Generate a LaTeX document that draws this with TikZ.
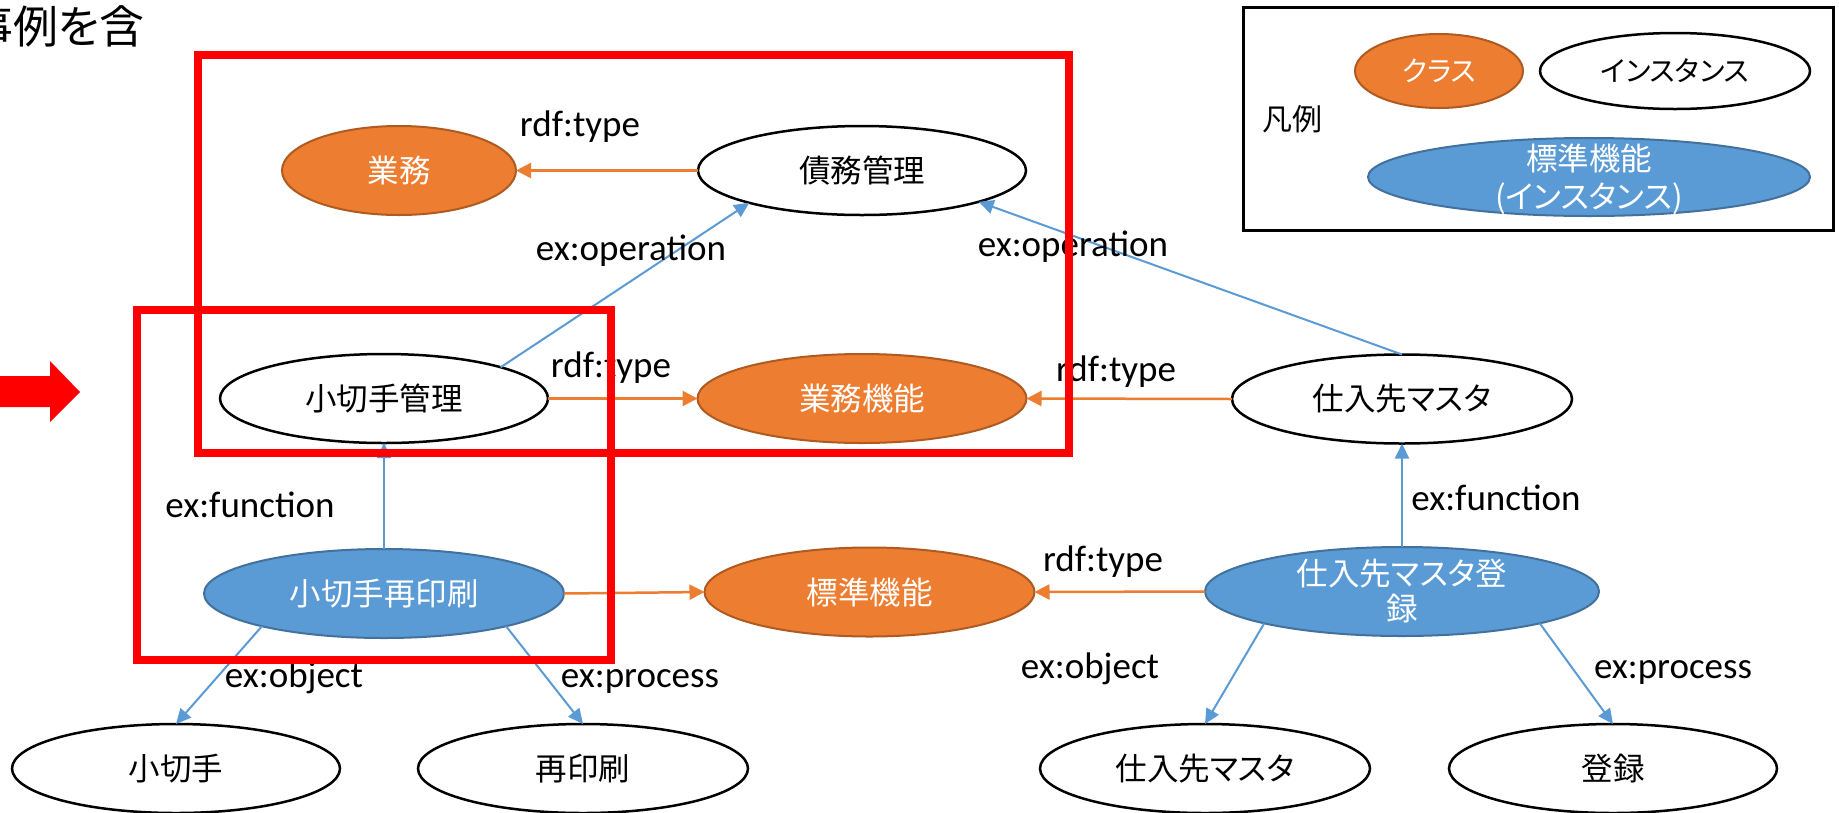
\documentclass[tikz,border=0pt]{standalone}
\usepackage{fontspec}
\setmainfont{Carlito}
\newfontfamily\jp{Noto Sans CJK JP}[RawFeature={+palt}]
\usetikzlibrary{shapes.geometric,arrows.meta}
\definecolor{orF}{HTML}{ED7D31}
\definecolor{orD}{HTML}{AE5A21}
\definecolor{blF}{HTML}{5B9BD5}
\definecolor{blD}{HTML}{41719C}
\tikzset{
 basell/.style={ellipse, inner sep=0pt, outer sep=0pt, align=center, font=\jp\fontsize{31.5}{35}\selectfont, minimum height=89pt},
 cls/.style={basell, fill=orF, draw=orD, line width=2pt, text=white},
 inst/.style={basell, fill=white, draw=black, line width=2.5pt},
 func/.style={basell, fill=blF, draw=blD, line width=2pt, text=white},
 lbl/.style={font=\fontsize{37}{42}\selectfont, anchor=base, inner sep=0pt},
 typ/.style={draw=orF, line width=2.5pt, -{Triangle[length=15pt,width=15pt]}},
 rel/.style={draw=blF, line width=2pt, -{Triangle[length=15pt,width=14pt]}},
 redbox/.style={draw=red, line width=8pt},
}
\begin{document}
\begin{tikzpicture}[x=1pt,y=-1pt]
\useasboundingbox (0,0) rectangle (1839,812);
\clip (0,0) rectangle (1839,812);
\fill[white] (0,0) rectangle (1839,812);

% title fragment
\node[font=\jp\fontsize{45}{50}\selectfont, anchor=east, inner sep=0pt] (title) at (145,26) {事例を含};

% red arrow
\fill[red] (-10,376) -- (50,376) -- (50,361) -- (80,392) -- (50,422) -- (50,407) -- (-10,407) -- cycle;

% main nodes
\node[cls, minimum width=234pt] (gyomu) at (399,170.5) {業務};
\node[inst, minimum width=328pt] (saimu) at (862,170.5) {債務管理};
\node[inst, minimum width=328pt] (kkanri) at (384,398.5) {小切手管理};
\node[cls, minimum width=329pt] (gkino) at (862,398.5) {業務機能};
\node[inst, minimum width=340pt] (shiire) at (1402,399) {仕入先マスタ};
\node[func, minimum width=360pt] (kinsatsu) at (384,593.5) {小切手再印刷};
\node[cls, minimum width=330pt] (hyojun) at (869.5,592) {標準機能};
\node[func, minimum width=394pt] (sreg) at (1402,591.5) {};
\node[font=\jp\fontsize{31.5}{35}\selectfont, text=white, align=center, inner sep=0pt] (sregtxt) at (sreg.center) {仕入先マスタ登\\録};
\node[inst, minimum width=328pt] (kogitte) at (176,768.5) {小切手};
\node[inst, minimum width=330pt] (reprint) at (583,768.5) {再印刷};
\node[inst, minimum width=330pt] (smaster) at (1205,768.5) {仕入先マスタ};
\node[inst, minimum width=328pt] (toroku) at (1613,768.5) {登録};

% legend
\node[draw=black, line width=3pt, minimum width=590pt, minimum height=223pt, inner sep=0pt, anchor=north west] (legend) at (1242,6) {};
\node[font=\jp\fontsize{30}{36}\selectfont, inner sep=0pt] (hanrei) at (1292,119) {凡例};
\node[cls, minimum width=168pt, minimum height=74pt, font=\jp\fontsize{28}{34}\selectfont] (lcls) at (1439,71) {クラス};
\node[inst, minimum width=270pt, minimum height=76pt, font=\jp\fontsize{28}{34}\selectfont] (linst) at (1675,71) {インスタンス};
\node[func, minimum width=442pt, minimum height=78pt] (lfunc) at (1589,177) {};
\node[font=\jp\fontsize{31.5}{38}\selectfont, text=white, align=center, inner sep=0pt] (lfunctxt) at (1589,179) {標準機能\\(インスタンス)};

% connectors
\draw[typ] (saimu.west) -- (gyomu.east);
\draw[rel] (kkanri.15) -- (saimu.196);
\draw[rel] (shiire.north) -- (saimu.345);
\draw[typ] (kkanri.east) -- (gkino.west);
\draw[typ] (shiire.west) -- (gkino.east);
\draw[rel] (kinsatsu.north) -- (kkanri.south);
\draw[typ] (kinsatsu.east) -- (hyojun.west);
\draw[typ] (sreg.west) -- (hyojun.east);
\draw[rel] (sreg.north) -- (shiire.south);
\draw[rel] (kinsatsu.195) -- (kogitte.north);
\draw[rel] (kinsatsu.345) -- (reprint.north);
\draw[rel] (sreg.193) -- (smaster.north);
\draw[rel] (sreg.347) -- (toroku.north);

% labels
\node[lbl] (l1) at (580,136) {rdf:type};
\node[lbl] (l2) at (631,260) {ex:operation};
\node[lbl] (l3) at (1073,256) {ex:operation};
\node[lbl] (l4) at (611,377) {rdf:type};
\node[lbl] (l5) at (1116,381) {rdf:type};
\node[lbl] (l6) at (250,517) {ex:function};
\node[lbl] (l7) at (1496,510) {ex:function};
\node[lbl] (l8) at (1103,571) {rdf:type};
\node[lbl] (l9) at (294,687) {ex:object};
\node[lbl] (l10) at (640,687) {ex:process};
\node[lbl] (l11) at (1090,678) {ex:object};
\node[lbl] (l12) at (1673,678) {ex:process};

% red frames
\draw[redbox] (197.5,54.5) rectangle (1069,452.5);
\draw[redbox] (137,309.5) rectangle (610.5,659.5);
\end{tikzpicture}
\end{document}
